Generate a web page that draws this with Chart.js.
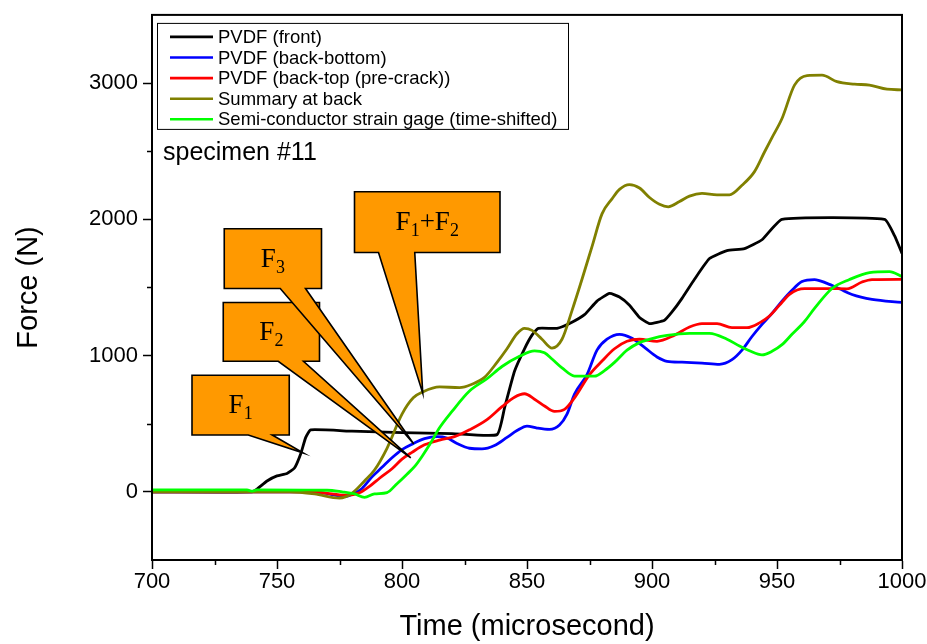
<!DOCTYPE html>
<html>
<head>
<meta charset="utf-8">
<script src="https://cdn.jsdelivr.net/npm/chart.js@4.4.1/dist/chart.umd.min.js"></script>
<style>
  html, body { margin: 0; padding: 0; background: #fff; }
  #wrap { width: 927px; height: 644px; position: relative; }
</style>
</head>
<body>
<div id="wrap"><canvas id="c" width="927" height="644"></canvas></div>
<script>
// ---------- data ----------
const seriesLabels = ["PVDF (front)", "PVDF (back-bottom)", "PVDF (back-top (pre-crack))", "Summary at back", "Semi-conductor strain gage (time-shifted)"];
const seriesColors = ["#000000", "#0000FF", "#FF0000", "#808000", "#00FF00"];

const tFront = [700,740,742,746,750,754,757,759.5,761.5,763.5,780,800,820,838,841,845,849,852,854.5,862,867,873,878,883,887,891,895,899,905,908,912,917,923,930,937,944,952,993,997,1000];
const fFront = [0,0,20,80,117,135,175,280,400,455,445,435,428,420,615,885,1050,1150,1200,1200,1235,1300,1400,1456,1430,1370,1280,1235,1260,1320,1420,1560,1712,1770,1785,1850,2000,2000,1880,1750];

const tBottom = [700,765,772,777,781,784,788,792,796,800,804,809,814,818,822,827,832,837,842,846,850,854,859,863,866,869,874,878,882,887,892,897,902,906,912,920,927,932,936,940,944,948,952,956,960,965,970,975,980,988,1000];
const fBottom = [0,0,-20,-35,-10,25,110,180,250,310,350,390,405,395,355,320,315,340,400,450,483,468,458,490,570,717,860,1040,1120,1156,1127,1060,990,958,952,945,936,970,1040,1140,1229,1310,1400,1480,1543,1558,1530,1490,1448,1412,1390];

const tTop = [700,765,772,778,783,787,791,796,800,804,809,815,821,827,834,840,845,849,853,857,861,865,869,875,880,885,890,895,902,909,915,920,926,932,938,943,947,951,955,961,970,978,984,988,1000];
const fTop = [0,0,-15,-25,-7,40,100,170,240,290,345,380,405,455,530,625,695,720,680,630,590,605,690,860,960,1050,1105,1120,1105,1150,1210,1235,1235,1205,1205,1240,1290,1370,1450,1492,1492,1490,1540,1558,1560];

const tSum = [700,755,765,775,780,785,789,794,800,804.5,808.5,815,823,828,833,838,842,846,849,852,856,860,864,868,872,876,880,884,887,891,895,899,903,906.5,911,915,920,926,931,936,941,945,948,952,957,962,968,974,981,987,994,1000];
const fSum = [0,0,-15,-45,-10,80,160,320,570,690,735,770,765,790,840,950,1050,1160,1200,1185,1120,1055,1120,1330,1560,1800,2040,2150,2220,2255,2230,2160,2110,2092,2130,2170,2190,2180,2180,2250,2350,2494,2600,2740,2985,3055,3058,3010,2992,2985,2955,2950];

const tGage = [700,738,740,742,770,776,781,785,789,794,798,802,805,808,811.5,815,820,827,834,840,847,853,857,860,864,869,877,881,885,890,895,900,906,915,923,930,935,939,944,948,952,956,961,965,972,979,987,995,1000];
const fGage = [15,15,5,15,12,0,-15,-40,-15,-5,60,130,185,260,360,470,590,740,830,920,995,1035,1020,975,910,850,849,890,950,1040,1095,1125,1148,1163,1163,1120,1070,1035,1005,1031,1080,1156,1250,1346,1492,1558,1609,1616,1580];

const xTickLabels = [700, 750, 800, 850, 900, 950, 1000];
const yTickLabels = [0, 1000, 2000, 3000];

// callouts: text parts, box corners (time, force), pointer base (time, time) at box bottom, tip (time, force)
const calloutNames = [["F","1"], ["F","2"], ["F","3"], ["F","1","+F","2"]];
const calloutBoxT = [[716.0, 754.9], [728.5, 767.0], [728.9, 767.8], [781.0, 839.2]];
const calloutBoxF = [[856, 417], [1390, 958], [1931, 1492], [2202, 1756]];
const calloutBaseT = [[738.5, 748.1], [750.5, 760.6], [751.3, 761.4], [790.6, 805.1]];
const calloutTip = [[760.6, 285], [803.5, 249], [804.7, 351], [808.3, 724]];

function pts(ts, fs) { return ts.map((t, i) => ({ x: t, y: fs[i] })); }

const allT = [tFront, tBottom, tTop, tSum, tGage];
const allF = [fFront, fBottom, fTop, fSum, fGage];

const datasets = allT.map((ts, i) => ({
  label: seriesLabels[i],
  data: pts(ts, allF[i]),
  borderColor: seriesColors[i],
  backgroundColor: seriesColors[i],
  borderWidth: 2.8,
  pointRadius: 0,
  tension: i === 0 ? 0.15 : 0.4,
  cubicInterpolationMode: i === 0 ? 'default' : 'monotone',
  order: 5 - i,
  fill: false
}));

const SANS = "'Liberation Sans', Arial, sans-serif";
const SERIF = "'Liberation Serif', 'Times New Roman', serif";

const decorPlugin = {
  id: 'decor',
  afterDatasetsDraw(chart) {
    const ctx = chart.ctx;
    const xs = chart.scales.x, ys = chart.scales.y;
    [0, 1, 2, 3].forEach(k => {
      const L = xs.getPixelForValue(calloutBoxT[k][0]);
      const R = xs.getPixelForValue(calloutBoxT[k][1]);
      const T = ys.getPixelForValue(calloutBoxF[k][0]);
      const B = ys.getPixelForValue(calloutBoxF[k][1]);
      const b1 = xs.getPixelForValue(calloutBaseT[k][0]);
      const b2 = xs.getPixelForValue(calloutBaseT[k][1]);
      const tx = xs.getPixelForValue(calloutTip[k][0]);
      const ty = ys.getPixelForValue(calloutTip[k][1]);
      ctx.save();
      ctx.beginPath();
      ctx.moveTo(L, T);
      ctx.lineTo(R, T);
      ctx.lineTo(R, B);
      ctx.lineTo(b2, B);
      ctx.lineTo(tx, ty);
      ctx.lineTo(b1, B);
      ctx.lineTo(L, B);
      ctx.closePath();
      ctx.fillStyle = '#FF9900';
      ctx.fill();
      ctx.strokeStyle = '#000';
      ctx.lineWidth = 1.6;
      ctx.lineJoin = 'miter';
      ctx.stroke();
      const parts = calloutNames[k];
      const big = 27, small = 18;
      ctx.fillStyle = '#000';
      ctx.textBaseline = 'alphabetic';
      ctx.textAlign = 'left';
      const widths = parts.map((p, i) => {
        ctx.font = (i % 2 === 0 ? big : small) + 'px ' + SERIF;
        return ctx.measureText(p).width;
      });
      const total = widths.reduce((a, b) => a + b, 0);
      let x = (L + R) / 2 - total / 2;
      const base = (T + B) / 2 + 8;
      parts.forEach((p, i) => {
        const isBig = i % 2 === 0;
        ctx.font = (isBig ? big : small) + 'px ' + SERIF;
        ctx.fillText(p, x, isBig ? base : base + 6);
        x += widths[i];
      });
      ctx.restore();
    });
  },
  afterDraw(chart) {
    const ctx = chart.ctx;
    const a = chart.chartArea;
    const xs = chart.scales.x, ys = chart.scales.y;
    ctx.save();
    ctx.strokeStyle = '#000';
    ctx.lineWidth = 2;
    ctx.strokeRect(a.left, a.top, a.right - a.left, a.bottom - a.top);
    // minor ticks
    ctx.lineWidth = 1.5;
    ctx.beginPath();
    for (let v = 725; v < 1000; v += 50) {
      const p = Math.round(xs.getPixelForValue(v)) + 0.5;
      ctx.moveTo(p, a.bottom); ctx.lineTo(p, a.bottom + 5);
    }
    for (let v = 500; v <= 2500; v += 1000) {
      const p = Math.round(ys.getPixelForValue(v)) + 0.5;
      ctx.moveTo(a.left, p); ctx.lineTo(a.left - 5, p);
    }
    ctx.stroke();
    // legend box
    const lx = a.left + 5, ly = a.top + 8, lw = 411, lh = 106;
    ctx.fillStyle = '#fff';
    ctx.fillRect(lx, ly, lw, lh);
    ctx.lineWidth = 1;
    ctx.strokeStyle = '#000';
    ctx.strokeRect(lx + 0.5, ly + 0.5, lw, lh);
    ctx.font = '18.5px ' + SANS;
    ctx.textBaseline = 'middle';
    ctx.textAlign = 'left';
    chart.data.datasets.forEach((ds, i) => {
      const y = ly + 14 + i * 20.6;
      ctx.strokeStyle = ds.borderColor;
      ctx.lineWidth = 2.6;
      ctx.beginPath();
      ctx.moveTo(lx + 13, y); ctx.lineTo(lx + 56, y);
      ctx.stroke();
      ctx.fillStyle = '#000';
      ctx.fillText(ds.label, lx + 61, y + 1);
    });
    ctx.font = '25px ' + SANS;
    ctx.textBaseline = 'alphabetic';
    ctx.fillStyle = '#000';
    ctx.fillText('specimen #11', a.left + 11, a.top + 145);
    ctx.restore();
  }
};

new Chart(document.getElementById('c'), {
  type: 'line',
  data: { datasets },
  plugins: [decorPlugin],
  options: {
    responsive: false,
    animation: false,
    layout: { padding: { top: 13, right: 25, left: 0, bottom: 0 } },
    plugins: { legend: { display: false }, tooltip: { enabled: false } },
    scales: {
      x: {
        type: 'linear',
        min: 700, max: 1000,
        afterFit: s => { s.height = 84; },
        ticks: {
          stepSize: 50,
          autoSkip: false,
          maxRotation: 0,
          padding: 0,
          color: '#000',
          font: { family: SANS, size: 22 },
          callback: v => (xTickLabels.includes(v) ? String(v) : '')
        },
        grid: { drawOnChartArea: false, drawTicks: true, tickLength: 9, tickColor: '#000', tickWidth: 1.5 },
        border: { display: true, color: '#000', width: 2 },
        title: { display: true, text: 'Time (microsecond)', color: '#000', font: { family: SANS, size: 29 }, padding: { top: 10, bottom: 0 } }
      },
      y: {
        type: 'linear',
        min: -500, max: 3500,
        afterFit: s => { s.width = 152; },
        ticks: {
          stepSize: 500,
          autoSkip: false,
          padding: 5,
          color: '#000',
          font: { family: SANS, size: 22, lineHeight: 0.9 },
          callback: v => (yTickLabels.includes(v) ? String(v) : '')
        },
        grid: {
          drawOnChartArea: false, drawTicks: true, tickLength: 9, tickWidth: 1.5,
          tickColor: c => (c.tick && yTickLabels.includes(c.tick.value) ? '#000' : 'rgba(0,0,0,0)')
        },
        border: { display: true, color: '#000', width: 2 },
        title: { display: true, text: 'Force (N)', color: '#000', font: { family: SANS, size: 29 }, padding: { top: 12, bottom: 0 } }
      }
    }
  }
});
</script>
</body>
</html>
